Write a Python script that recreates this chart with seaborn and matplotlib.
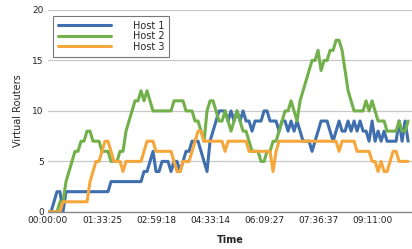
import numpy as np
import pandas as pd
import matplotlib
matplotlib.use('Agg')
import matplotlib.pyplot as plt
import seaborn as sns

sns.set_theme(style='white')
plt.rcParams['font.family'] = ['DejaVu Sans']

# virtual routers per host, one sample per step
host1 = [0, 0, 1, 2, 2, 0, 2, 2, 2, 2, 2, 2, 2, 2, 2, 2, 2, 2, 2, 2,
         2, 3, 3, 3, 3, 3, 3, 3, 3, 3, 3, 3, 4, 4, 5, 6, 4, 4, 5, 5,
         5, 4, 5, 5, 4, 5, 6, 6, 7, 7, 7, 6, 5, 4, 7, 8, 9, 10, 10, 10,
         9, 10, 9, 10, 9, 10, 9, 9, 8, 9, 9, 9, 10, 10, 9, 9, 9, 8, 9, 9,
         8, 9, 8, 9, 8, 7, 7, 7, 6, 7, 8, 9, 9, 9, 8, 7, 8, 9, 8, 8,
         9, 8, 9, 8, 9, 8, 8, 7, 9, 7, 8, 7, 8, 7, 7, 7, 7, 9, 7, 9, 7]
host2 = [0, 0, 0, 0, 1, 1, 3, 4, 5, 6, 6, 7, 7, 8, 8, 7, 7, 7, 6, 6,
         6, 5, 5, 5, 6, 6, 8, 9, 10, 11, 11, 12, 11, 12, 11, 10, 10, 10, 10, 10,
         10, 10, 11, 11, 11, 11, 10, 10, 10, 9, 9, 8, 7, 10, 11, 11, 10, 9, 9, 10,
         9, 8, 9, 10, 9, 8, 8, 7, 6, 6, 6, 5, 5, 6, 6, 7, 7, 8, 9, 10,
         10, 11, 10, 9, 11, 12, 13, 14, 15, 15, 16, 14, 15, 15, 16, 16, 17, 17, 16, 14,
         12, 11, 10, 10, 10, 10, 11, 10, 11, 10, 9, 9, 9, 8, 8, 8, 8, 9, 8, 8, 9]
host3 = [0, 0, 0, 0, 0, 1, 1, 1, 1, 1, 1, 1, 1, 1, 3, 4, 5, 5, 6, 7,
         7, 6, 5, 5, 5, 4, 5, 5, 5, 5, 5, 5, 6, 7, 7, 7, 6, 6, 6, 6,
         6, 6, 5, 4, 4, 5, 5, 5, 6, 7, 8, 8, 7, 7, 7, 7, 7, 7, 7, 6,
         7, 7, 7, 7, 7, 7, 7, 6, 6, 6, 6, 6, 6, 6, 6, 4, 6, 7, 7, 7,
         7, 7, 7, 7, 7, 7, 7, 7, 7, 7, 7, 7, 7, 7, 7, 7, 7, 6, 7, 7,
         7, 7, 7, 6, 6, 6, 6, 6, 5, 5, 4, 5, 4, 4, 5, 6, 6, 5, 5, 5, 5]
hosts = ['Host 1', 'Host 2', 'Host 3']
tick_labels = ['00:00:00', '01:33:25', '02:59:18', '04:33:14',
               '06:09:27', '07:36:37', '09:11:00']
LABEL_EVERY = 18

df = pd.DataFrame({'Host 1': host1, 'Host 2': host2, 'Host 3': host3})
df['step'] = np.arange(len(df))
long = df.melt(id_vars='step', var_name='Host', value_name='Routers')

colors = ['#3f6faf', '#72b04a', '#f6a73b']

fig = plt.figure(figsize=(4.12, 2.49), dpi=100)
ax = fig.add_axes([0.1165, 0.149, 0.8835, 0.811])
sns.lineplot(data=long, x='step', y='Routers', hue='Host', hue_order=hosts,
             palette=colors, linewidth=2.2, ax=ax)

ax.set_xlim(0, 121.3)
ax.set_ylim(0, 20)
ax.set_yticks([0, 5, 10, 15, 20])
ax.set_xticks(np.arange(len(tick_labels)) * LABEL_EVERY)
ax.set_xticklabels(tick_labels)
ax.tick_params(axis='both', labelsize=6.5, length=0, pad=3, colors='#222222')
ax.yaxis.grid(True, color='#c8c8c8', linewidth=0.9)
ax.xaxis.grid(False)
for side in ['left', 'right', 'top']:
    ax.spines[side].set_visible(False)
ax.spines['bottom'].set_color('#888888')
ax.spines['bottom'].set_linewidth(1.0)

ax.set_xlabel('Time', fontsize=7, fontweight='bold', labelpad=7)
ax.set_ylabel('Virtual Routers', fontsize=7, labelpad=7)

leg = ax.legend(loc='upper left', bbox_to_anchor=(0.0, 0.995), fontsize=7,
                frameon=True, fancybox=False, handlelength=5.5,
                handletextpad=2.2, labelspacing=0.05, borderpad=0.5)
leg.get_frame().set_edgecolor('#555555')
leg.get_frame().set_linewidth(0.8)
leg.set_title(None)

fig.savefig('out.png', dpi=100)
